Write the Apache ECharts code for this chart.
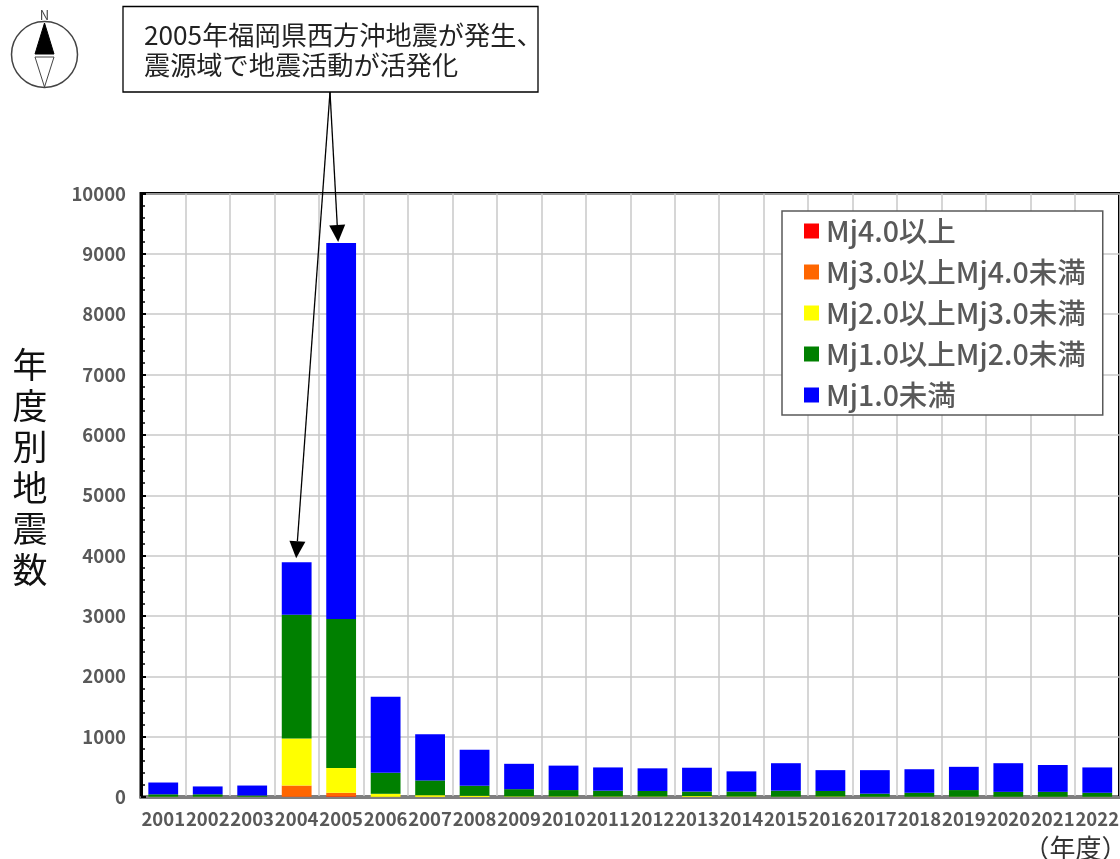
<!DOCTYPE html>
<html><head><meta charset="utf-8">
<style>html,body{margin:0;padding:0;background:#fff}#c{width:1120px;height:859px}</style>
<script src="https://cdn.jsdelivr.net/npm/echarts@6/dist/echarts.min.js"></script>
</head><body><div id="c"></div>
<script>
const years = ['2001','2002','2003','2004','2005','2006','2007','2008','2009','2010','2011','2012','2013','2014','2015','2016','2017','2018','2019','2020','2021','2022'];
const mj4plus = [0,0,0,5,10,0,0,0,0,0,0,0,0,0,0,0,0,0,0,0,0,0];
const mj3to4  = [0,0,0,185,60,3,2,1,0,0,0,0,1,0,0,0,0,0,0,0,0,0];
const mj2to3  = [5,5,5,780,410,50,28,19,10,9,8,8,14,8,5,8,4,4,5,4,4,4];
const mj1to2  = [40,40,20,2050,2470,347,245,165,120,106,97,92,75,82,100,92,51,66,110,81,81,66];
const mjUnder1 = [195,130,165,870,6230,1260,765,600,420,405,385,375,395,335,455,345,390,390,385,475,445,420];
const names = ['Mj4.0以上','Mj3.0以上Mj4.0未満','Mj2.0以上Mj3.0未満','Mj1.0以上Mj2.0未満','Mj1.0未満'];
const colors = ['#ff0000','#ff6600','#ffff00','#008000','#0000ff'];
const seriesData = [mj4plus,mj3to4,mj2to3,mj1to2,mjUnder1];
const yTitle = '年度別地震数';
const xUnit = '（年度）';
const calloutLines = ['2005年福岡県西方沖地震が発生、','震源域で地震活動が活発化'];
const FONT = '"Noto Sans CJK JP","Noto Sans",sans-serif';

const chart = echarts.init(document.getElementById('c'),null,{renderer:'canvas'});
chart.setOption({
  animation:false,
  backgroundColor:'#fff',
  textStyle:{fontFamily:FONT},
  grid:{left:141,right:0.5,top:193.5,bottom:62,show:true,borderColor:'#000',borderWidth:3,backgroundColor:'transparent',outerBoundsMode:'none'},
  legend:{
    orient:'vertical',left:782,top:211,
    padding:[5,17,5,22],itemGap:11,itemWidth:15,itemHeight:15,
    backgroundColor:'#fff',borderColor:'#595959',borderWidth:1.5,
    data:names,icon:'rect',
    textStyle:{color:'#595959',fontSize:28.5,fontWeight:500,fontFamily:FONT,lineHeight:30,padding:[0,0,0,2]}
  },
  xAxis:{
    type:'category',data:years,
    name:xUnit,nameLocation:'end',nameGap:8,
    nameTextStyle:{color:'#333',fontSize:26,align:'right',verticalAlign:'top',padding:[38,0,0,0],fontFamily:FONT},
    axisLine:{show:true,onZero:true,lineStyle:{color:'#7f7f7f',width:3}},
    axisTick:{show:false},
    splitLine:{show:true,lineStyle:{color:'#c8c8c8',width:1.5}},
    axisLabel:{color:'#595959',fontSize:18.5,fontWeight:'bold',margin:13,interval:0,fontFamily:FONT}
  },
  yAxis:{
    type:'value',min:0,max:10000,interval:1000,
    axisLine:{show:true,lineStyle:{color:'#000',width:3}},
    axisTick:{show:true,inside:true,length:5,lineStyle:{color:'#000',width:2}},
    minorTick:{show:true,splitNumber:5,length:4,lineStyle:{color:'#000',width:1.5}},
    splitLine:{show:true,lineStyle:{color:'#c8c8c8',width:1.5}},
    axisLabel:{color:'#595959',fontSize:18.5,fontWeight:'bold',margin:15,fontFamily:FONT,formatter:v=>String(v)}
  },
  series:names.map((n,i)=>({
    name:n,type:'bar',stack:'t',barCategoryGap:'33%',
    data:seriesData[i],itemStyle:{color:colors[i]}
  })),
  graphic:[]
});

function total(i){return seriesData.reduce((s,a)=>s+a[i],0);}
function arrow(from,tip){
  const dx=tip[0]-from[0],dy=tip[1]-from[1],L=Math.hypot(dx,dy),ux=dx/L,uy=dy/L,bl=17,hw=8;
  const bx=tip[0]-ux*bl,by=tip[1]-uy*bl;
  return [
    {type:'line',z:50,shape:{x1:from[0],y1:from[1],x2:bx,y2:by},style:{stroke:'#000',lineWidth:1.3}},
    {type:'polygon',z:50,shape:{points:[tip,[bx-uy*hw,by+ux*hw],[bx+uy*hw,by-ux*hw]]},style:{fill:'#000'}}
  ];
}
const p04=chart.convertToPixel({xAxisIndex:0,yAxisIndex:0},['2004',total(3)]);
const p05=chart.convertToPixel({xAxisIndex:0,yAxisIndex:0},['2005',total(4)]);
const origin=[330,92];
chart.setOption({graphic:[
  {type:'text',z:52,style:{x:30,y:467,text:yTitle.split('').join('\n'),fontSize:35,lineHeight:41,fontFamily:FONT,fill:'#111',align:'center',verticalAlign:'middle'}},
  {type:'rect',z:51,shape:{x:123,y:6.5,width:415,height:85.5},style:{fill:'#fff',stroke:'#000',lineWidth:1.3}},
  {type:'text',z:52,style:{x:144,y:35,text:calloutLines[0],fontSize:26.2,fontFamily:FONT,fill:'#222',verticalAlign:'middle'}},
  {type:'text',z:52,style:{x:144,y:65,text:calloutLines[1],fontSize:26.2,fontFamily:FONT,fill:'#222',verticalAlign:'middle'}},
  ...arrow(origin,[p04[0]-0.5,p04[1]-4]),
  ...arrow(origin,[p05[0]-3,p05[1]-1]),
  {type:'circle',z:50,shape:{cx:44.5,cy:54.5,r:33},style:{fill:'#fff',stroke:'#444',lineWidth:1.5}},
  {type:'polygon',z:51,shape:{points:[[44.5,23],[35,54],[54,54]]},style:{fill:'#000',stroke:'#000',lineWidth:1}},
  {type:'polygon',z:51,shape:{points:[[35,57],[44.5,87],[54,57]]},style:{fill:'#fff',stroke:'#444',lineWidth:1}},
  {type:'text',z:52,style:{x:44.5,y:15,text:'N',fontSize:13,fontFamily:FONT,fill:'#444',align:'center',verticalAlign:'middle'}}
]});
</script></body></html>
